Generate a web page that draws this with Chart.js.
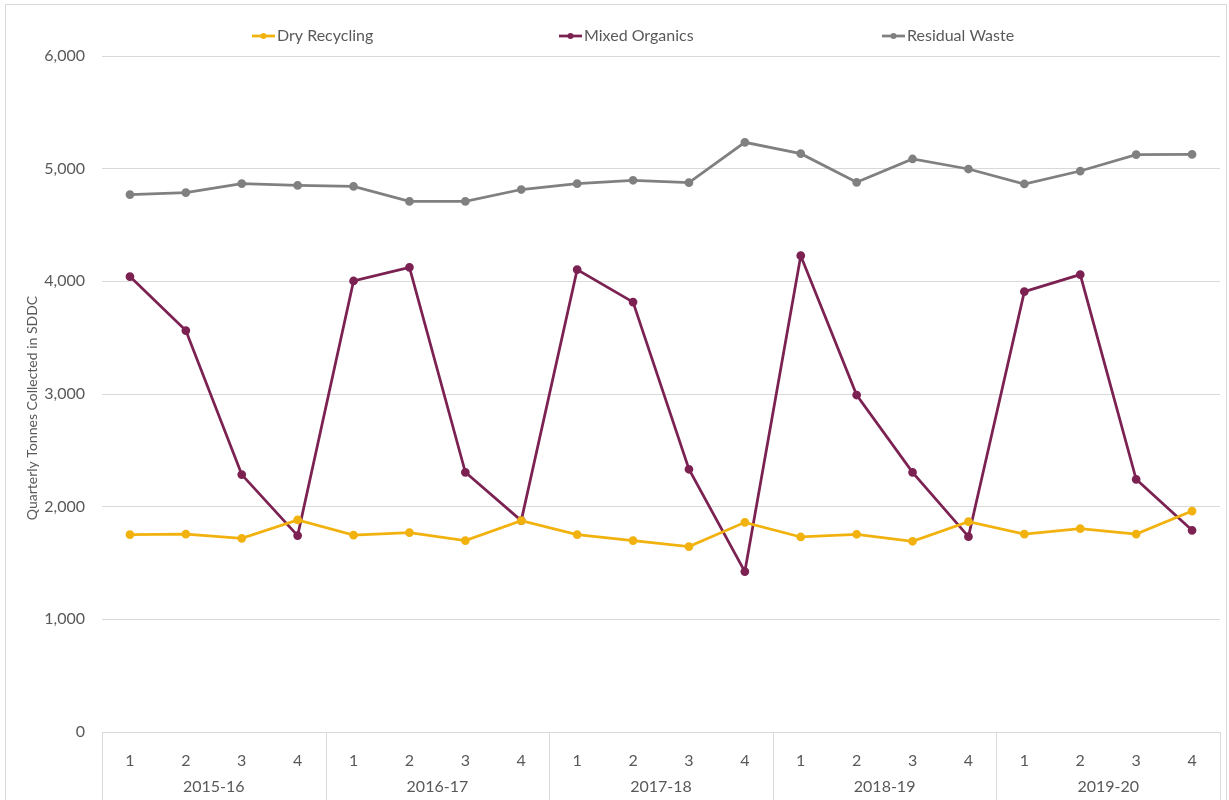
<!DOCTYPE html>
<html>
<head>
<meta charset="utf-8">
<script src="https://cdn.jsdelivr.net/npm/chart.js@4/dist/chart.umd.min.js"></script>
<style>
  html, body { margin: 0; padding: 0; background: #ffffff; }
  #wrap { position: relative; width: 1229px; height: 800px; overflow: hidden; }
  #wrap canvas { position: absolute; left: 0; top: 0; }
  #frame { position: absolute; left: 5px; top: 4px; width: 1222px; height: 810px;
           border: 1px solid #d9d9d9; box-sizing: border-box; pointer-events: none; }
</style>
</head>
<body>
<div id="wrap">
  <canvas id="chart" width="1229" height="800"></canvas>
  <div id="frame"></div>
</div>
<script>
// Financial years and quarters along the bottom axis
const years = ['2015-16', '2016-17', '2017-18', '2018-19', '2019-20'];
const quarters = ['1', '2', '3', '4'];

// Quarterly tonnes collected, one value per quarter
const dryRecycling = [1752, 1757, 1719, 1882, 1748, 1770, 1699, 1876, 1752, 1699,
                      1646, 1861, 1731, 1755, 1693, 1867, 1757, 1805, 1757, 1961];
const mixedOrganics = [4042, 3563, 2285, 1743, 4003, 4124, 2305, 1876, 4104, 3816,
                       2332, 1424, 4228, 2991, 2305, 1734, 3909, 4060, 2243, 1790];
const residualWaste = [4770, 4788, 4868, 4851, 4842, 4709, 4709, 4815, 4867, 4897,
                       4876, 5234, 5133, 4879, 5086, 4997, 4864, 4979, 5125, 5127];

// Value axis range
const yMin = 0;
const yMax = 6000;
const yStep = 1000;
const yTitle = 'Quarterly Tonnes Collected in SDDC';

const seriesNames = ['Dry Recycling', 'Mixed Organics', 'Residual Waste'];
const seriesColors = ['#F2B20E', '#7C2252', '#808080'];

const categories = [];
const quarterOf = [];
years.forEach(y => quarters.forEach(q => { categories.push(y + ' Q' + q); quarterOf.push(q); }));

const FONT = 'Lato, "Open Sans", sans-serif';
const TEXT = '#595959';
const GRID = '#d9d9d9';
const SIZE = 16;

function series(label, data, color) {
  return {
    label, data,
    borderColor: color, backgroundColor: color,
    pointBackgroundColor: color, pointBorderColor: color,
    borderWidth: 2.75, pointRadius: 3, pointHoverRadius: 3,
    tension: 0, fill: false
  };
}

// Year bands under the quarter ticks, the legend row and the rotated axis title
const decorations = {
  id: 'decorations',
  afterDraw(chart) {
    const ctx = chart.ctx;
    const x = chart.scales.x;
    const area = chart.chartArea;
    const n = categories.length;
    const boundary = i => {
      if (i <= 0) return x.left;
      if (i >= n) return x.right;
      return (x.getPixelForTick(i - 1) + x.getPixelForTick(i)) / 2;
    };
    ctx.save();
    ctx.strokeStyle = GRID;
    ctx.lineWidth = 1;
    for (let k = 0; k <= years.length; k++) {
      const px = Math.round(boundary(k * quarters.length)) + 0.5;
      ctx.beginPath();
      ctx.moveTo(px, area.bottom);
      ctx.lineTo(px, chart.height);
      ctx.stroke();
    }
    ctx.fillStyle = TEXT;
    ctx.font = SIZE + 'px ' + FONT;
    ctx.textAlign = 'center';
    ctx.textBaseline = 'middle';
    years.forEach((y, k) => {
      const cx = (boundary(k * quarters.length) + boundary((k + 1) * quarters.length)) / 2;
      ctx.fillText(y, cx, 787);
    });

    // legend
    const legendX = [252, 559, 882];
    const legendY = 36;
    seriesNames.forEach((name, i) => {
      const lx = legendX[i];
      ctx.strokeStyle = seriesColors[i];
      ctx.lineWidth = 2.75;
      ctx.beginPath();
      ctx.moveTo(lx, legendY);
      ctx.lineTo(lx + 23, legendY);
      ctx.stroke();
      ctx.fillStyle = seriesColors[i];
      ctx.beginPath();
      ctx.arc(lx + 11.5, legendY, 3, 0, Math.PI * 2);
      ctx.fill();
      ctx.fillStyle = TEXT;
      ctx.textAlign = 'left';
      ctx.fillText(name, lx + 25, legendY);
    });

    // axis title
    ctx.translate(32, 408);
    ctx.rotate(-Math.PI / 2);
    ctx.textAlign = 'center';
    ctx.font = '14px ' + FONT;
    ctx.fillText(yTitle, 0, 0);
    ctx.restore();
  }
};

new Chart(document.getElementById('chart'), {
  type: 'line',
  data: {
    labels: categories,
    datasets: [
      series(seriesNames[0], dryRecycling, seriesColors[0]),
      series(seriesNames[1], mixedOrganics, seriesColors[1]),
      series(seriesNames[2], residualWaste, seriesColors[2])
    ]
  },
  options: {
    responsive: false,
    animation: false,
    devicePixelRatio: 1,
    layout: { padding: { top: 56, right: 9, bottom: 0, left: 0 } },
    plugins: { legend: { display: false }, tooltip: { enabled: false } },
    scales: {
      x: {
        type: 'category',
        offset: true,
        grid: { display: false },
        border: { display: true, color: GRID, width: 1 },
        ticks: {
          color: TEXT, font: { family: FONT, size: SIZE },
          padding: 11, maxRotation: 0, autoSkip: false,
          callback: (v, i) => quarterOf[i]
        },
        afterFit: s => { s.height = 68; }
      },
      y: {
        min: yMin, max: yMax,
        grid: { color: GRID, lineWidth: 1, drawTicks: false },
        border: { display: false },
        ticks: {
          stepSize: yStep, color: TEXT, font: { family: FONT, size: SIZE }, padding: 17,
          callback: v => v.toLocaleString('en-GB')
        },
        afterFit: s => { s.height; s.width = 102; }
      }
    }
  },
  plugins: [decorations]
});
</script>
</body>
</html>
